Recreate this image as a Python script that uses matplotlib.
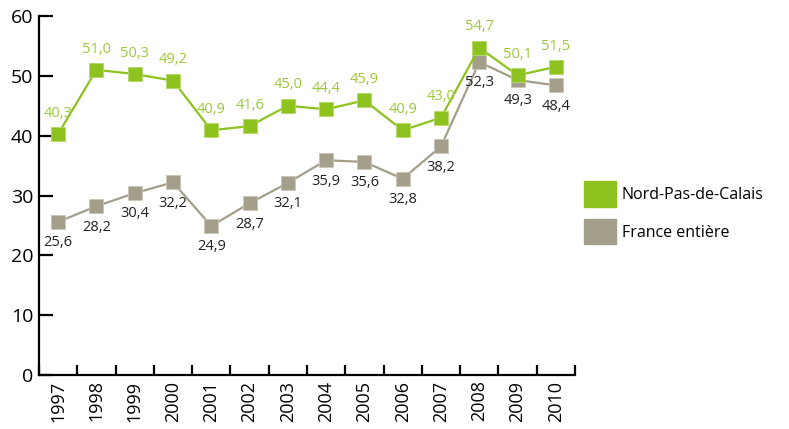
import numpy as np
import matplotlib.pyplot as plt
from matplotlib.patches import Patch

plt.rcParams['font.family'] = ['Open Sans', 'DejaVu Sans']

years = ['1997', '1998', '1999', '2000', '2001', '2002', '2003',
         '2004', '2005', '2006', '2007', '2008', '2009', '2010']
nord = [40.3, 51.0, 50.3, 49.2, 40.9, 41.6, 45.0,
        44.4, 45.9, 40.9, 43.0, 54.7, 50.1, 51.5]
france = [25.6, 28.2, 30.4, 32.2, 24.9, 28.7, 32.1,
          35.9, 35.6, 32.8, 38.2, 52.3, 49.3, 48.4]

green = '#8dc21f'
green_txt = '#9cc83a'
grey = '#a39f8b'

fig = plt.figure(figsize=(7.89, 4.29), dpi=100)
ax = fig.add_axes([39 / 789, 54 / 429, 536 / 789, 359 / 429])

x = np.arange(len(years))
ax.plot(x, france, color=grey, lw=1.6, marker='s', ms=10,
        mfc=grey, mec='#c9c6b8', mew=0.6, zorder=2)
ax.plot(x, nord, color=green, lw=1.6, marker='s', ms=10,
        mfc=green, mec='#b5d96a', mew=0.6, zorder=3)

for xi, v in zip(x, nord):
    ax.annotate(f'{v:.1f}'.replace('.', ','), (xi, v), xytext=(0, 15),
                textcoords='offset points', ha='center', va='center',
                color=green_txt, fontsize=10.5)
for xi, v in zip(x, france):
    ax.annotate(f'{v:.1f}'.replace('.', ','), (xi, v), xytext=(0, -15),
                textcoords='offset points', ha='center', va='center',
                color='#222222', fontsize=10.5)

ax.set_xlim(-0.5, len(years) - 0.5)
ax.set_ylim(0, 60)
ax.set_yticks(range(0, 61, 10))
ax.set_xticks(np.arange(len(years) + 1) - 0.5)
ax.set_xticklabels([])
ax.set_xticks(x, minor=True)
ax.set_xticklabels(years, minor=True, rotation=90)
ax.tick_params(axis='x', which='major', direction='in', length=7, width=1.6)
ax.tick_params(axis='x', which='minor', length=0, labelsize=13, pad=4)
ax.tick_params(axis='y', direction='in', length=10, width=1.6,
               labelsize=14, pad=4)

for s in ['top', 'right']:
    ax.spines[s].set_visible(False)
for s in ['left', 'bottom']:
    ax.spines[s].set_linewidth(1.6)

handles = [Patch(color=green, label='Nord-Pas-de-Calais'),
           Patch(color=grey, label='France entière')]
fig.legend(handles=handles, loc='upper left', bbox_to_anchor=(584 / 789, 1 - 181 / 429),
           frameon=False, fontsize=11.5, handlelength=2.0, handleheight=2.1,
           handletextpad=0.35, labelspacing=0.75, borderpad=0, borderaxespad=0)

fig.savefig('out.png', dpi=100)
